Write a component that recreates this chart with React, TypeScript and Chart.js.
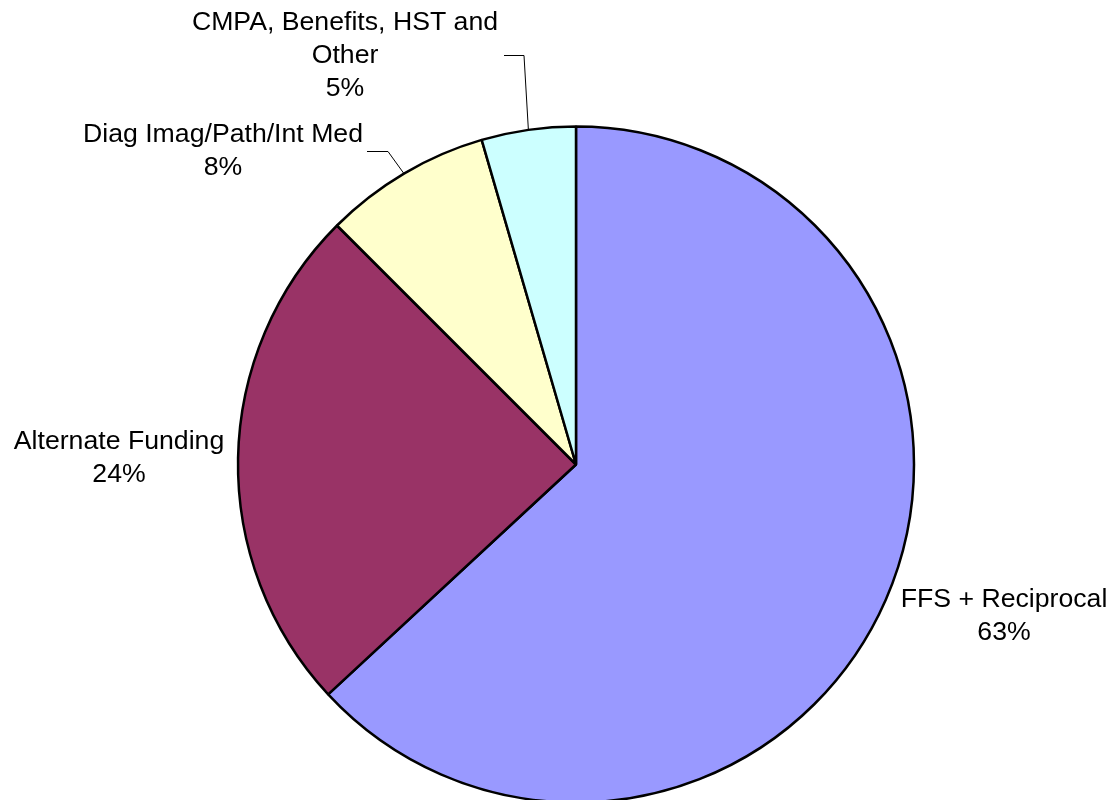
import React, { useEffect, useRef } from "react";
import { Chart, registerables } from "chart.js";

Chart.register(...registerables);

const categories: string[][] = [
  ["FFS + Reciprocal"],
  ["Alternate Funding"],
  ["Diag Imag/Path/Int Med"],
  ["CMPA, Benefits, HST and", "Other"],
];
const shares: number[] = [63.1, 24.4, 8.0, 4.5];
const colors: string[] = ["#9999FF", "#993366", "#FFFFCC", "#CCFFFF"];

// label anchor (centre x, baseline of first line) and optional leader elbow
const labelPos: { x: number; y: number; leader?: [number, number, number] }[] = [
  { x: 1004, y: 607 },
  { x: 119, y: 449 },
  { x: 223, y: 142, leader: [367, 151, 388] },
  { x: 345, y: 30, leader: [504, 55, 524] },
];

const FONT = '26.67px "Liberation Sans", Arial, sans-serif';
const LINE_H = 33;

const labelPlugin = {
  id: "outerLabels",
  afterDatasetsDraw(chart: any) {
    const ctx = chart.ctx as CanvasRenderingContext2D;
    const meta = chart.getDatasetMeta(0);
    const total = shares.reduce((a, b) => a + b, 0);
    ctx.save();
    ctx.font = FONT;
    ctx.fillStyle = "#000";
    ctx.textAlign = "center";
    ctx.textBaseline = "alphabetic";
    meta.data.forEach((arc: any, i: number) => {
      const p = labelPos[i];
      const lines = [...categories[i], Math.round((shares[i] / total) * 100) + "%"];
      lines.forEach((t, k) => ctx.fillText(t, p.x, p.y + k * LINE_H));
      if (p.leader) {
        const { x, y, startAngle, endAngle, outerRadius } = arc.getProps(
          ["x", "y", "startAngle", "endAngle", "outerRadius"],
          true
        );
        const mid = (startAngle + endAngle) / 2;
        const ex = x + Math.cos(mid) * outerRadius;
        const ey = y + Math.sin(mid) * outerRadius;
        ctx.strokeStyle = "#000";
        ctx.lineWidth = 1;
        ctx.beginPath();
        ctx.moveTo(p.leader[0], p.leader[1] + 0.5);
        ctx.lineTo(p.leader[2], p.leader[1] + 0.5);
        ctx.lineTo(ex, ey);
        ctx.stroke();
      }
    });
    ctx.restore();
  },
};

export default function App() {
  const ref = useRef<HTMLCanvasElement>(null);
  useEffect(() => {
    if (!ref.current) return;
    const chart = new Chart(ref.current, {
      type: "pie",
      data: {
        labels: categories.map((c) => c.join(" ")),
        datasets: [
          {
            data: shares,
            backgroundColor: colors,
            borderColor: "#000",
            borderWidth: 2.5,
            clip: false as any,
          } as any,
        ],
      },
      options: {
        responsive: false,
        animation: false,
        devicePixelRatio: 1,
        radius: 338,
        layout: { padding: { left: 37, right: 0, top: 129, bottom: 0 } },
        plugins: {
          legend: { display: false },
          tooltip: { enabled: false },
          title: { display: false },
        },
      } as any,
      plugins: [labelPlugin],
    });
    return () => chart.destroy();
  }, []);
  return (
    <div style={{ position: "fixed", left: 0, top: 0, width: 1115, height: 800, background: "#fff" }}>
      <canvas ref={ref} width={1115} height={800} style={{ display: "block" }} />
    </div>
  );
}
